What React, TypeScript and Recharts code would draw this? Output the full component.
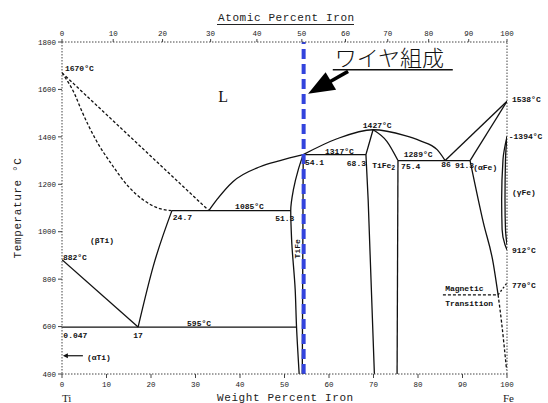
import React from 'react';
import { LineChart, Line, XAxis, YAxis, ReferenceLine, ReferenceDot } from 'recharts';

// ---- data (wt% Fe, °C) ----
const liquidusTi = [[0, 1670], [33, 1089]];
const solidusBeta = [[0, 1670], [2.9, 1578], [4.3, 1515], [7.6, 1388], [11.5, 1275], [14.9, 1191], [18.2, 1135], [22.0, 1097], [24.7, 1089]];
const betaTransus = [[0, 882], [17.1, 598]];
const betaSolvus = [[17.1, 598], [20.5, 854], [24.7, 1089]];
const eutectic1085 = [[24.7, 1089], [51.4, 1089]];
const eutectoid595 = [[0, 598], [52.7, 598]];
const tiFeLeft = [[53.3, 400], [52.7, 600], [52.4, 756], [51.6, 966], [51.4, 1089], [52.0, 1177], [53.1, 1262], [54.2, 1325]];
const tiFeRight = [[54.2, 1325], [54.0, 400]];
const liquidusA = [[33, 1089], [34.8, 1135], [38.4, 1211], [44.5, 1274], [49.0, 1300], [54.2, 1325]];
const liquidusB = [[54.2, 1325], [61.8, 1392], [69.9, 1430], [77.1, 1405], [80.4, 1384], [84.3, 1346], [86.1, 1300]];
const peritectic1317 = [[54.2, 1325], [68.3, 1325]];
const tiFe2Left = [[69.9, 1430], [68.3, 1325], [68.8, 1135], [70.2, 400]];
const tiFe2RightTop = [[69.9, 1430], [73.0, 1381], [75.5, 1300]];
const tiFe2RightBottom = [[75.5, 1300], [75.3, 400]];
const eutectic1289 = [[75.5, 1300], [91.7, 1300]];
const liquidusFe = [[86.1, 1300], [100, 1550]];
const solidusDelta = [[91.7, 1300], [100, 1550]];
const alphaFeSolid = [[91.7, 1300], [94.7, 1037], [96.9, 868], [98.0, 734]];
const alphaFeDashed = [[98.0, 734], [98.8, 615], [99.9, 418]];
const magneticLine = [[98.0, 734], [100, 784]];
const magneticMark = [[85.6, 734], [97.8, 734]];
const gammaOuter = [[100, 924], [99.55, 945], [98.9, 1009], [98.8, 1135], [99.1, 1304], [100, 1401]];
const gammaInner = [[100, 945], [99.66, 1009], [99.55, 1135], [99.66, 1304], [100, 1401]];

const wtTicks = [0, 10, 20, 30, 40, 50, 60, 70, 80, 90, 100];
const atomicTickPos = [0, 11.5, 22.6, 33.4, 43.8, 53.9, 63.7, 73.2, 82.4, 91.4, 100];
const atomicTickLabels = ['0', '10', '20', '30', '40', '50', '60', '70', '80', '90', '100'];
const tempTicks = [400, 600, 800, 1000, 1200, 1400, 1600, 1800];

const wireComposition = 54.3;

const notes: { t: string; x: number; y: number }[] = [
  { t: '1670°C', x: 0.67, y: 1679 },
  { t: '(βTi)', x: 6.3, y: 954 },
  { t: '882°C', x: 0.2, y: 882 },
  { t: '24.7', x: 24.9, y: 1051 },
  { t: '1085°C', x: 38.9, y: 1097 },
  { t: '51.3', x: 47.9, y: 1047 },
  { t: '0.047', x: 0.3, y: 553 },
  { t: '17', x: 16.0, y: 553 },
  { t: '595°C', x: 28.1, y: 604 },
  { t: '(αTi)', x: 5.6, y: 460 },
  { t: '54.1', x: 54.6, y: 1283 },
  { t: '1317°C', x: 59.1, y: 1329 },
  { t: '68.3', x: 64.0, y: 1279 },
  { t: '1427°C', x: 67.6, y: 1439 },
  { t: '75.4', x: 76.2, y: 1266 },
  { t: '1289°C', x: 76.8, y: 1317 },
  { t: '86', x: 85.2, y: 1272 },
  { t: '91.3', x: 88.3, y: 1270 },
  { t: '(αFe)', x: 92.4, y: 1262 },
  { t: '1538°C', x: 101.1, y: 1548 },
  { t: '-1394°C', x: 100.4, y: 1392 },
  { t: '(γFe)', x: 101.1, y: 1156 },
  { t: '912°C', x: 101.1, y: 912 },
  { t: '770°C', x: 101.1, y: 764 },
  { t: 'Magnetic', x: 86.1, y: 751 },
  { t: 'Transition', x: 86.1, y: 688 },
];

const toPts = (a: number[][]) => a.map(([x, y]) => ({ x, y }));

const series: { d: number[][]; dash?: string; type?: string }[] = [
  { d: liquidusTi, dash: '3 2' },
  { d: solidusBeta, dash: '3 2', type: 'monotoneX' },
  { d: betaTransus },
  { d: betaSolvus, type: 'monotoneX' },
  { d: eutectic1085 },
  { d: eutectoid595 },
  { d: tiFeLeft, type: 'monotoneY' },
  { d: tiFeRight },
  { d: liquidusA, type: 'monotoneX' },
  { d: liquidusB, type: 'monotoneX' },
  { d: peritectic1317 },
  { d: tiFe2Left },
  { d: tiFe2RightTop, type: 'monotoneX' },
  { d: tiFe2RightBottom },
  { d: eutectic1289 },
  { d: liquidusFe },
  { d: solidusDelta },
  { d: alphaFeSolid, type: 'monotoneX' },
  { d: alphaFeDashed, dash: '3 2', type: 'monotoneX' },
  { d: magneticLine, dash: '2 2' },
  { d: magneticMark, dash: '3 2' },
  { d: gammaOuter, type: 'monotoneY' },
  { d: gammaInner, type: 'monotoneY' },
];

const mono = 'Liberation Mono, DejaVu Sans Mono, monospace';
const tickStyle = { fontSize: 7.5, fontFamily: mono, fill: '#222' };

export default function App() {
  return (
    <div style={{ position: 'absolute', left: 0, top: 0, width: 548, height: 403, background: '#fff' }}>
      <LineChart width={548} height={403} margin={{ top: 0, right: 41, bottom: 0, left: 0 }}>
        <XAxis
          xAxisId={0}
          dataKey="x"
          type="number"
          domain={[0, 100]}
          ticks={wtTicks}
          height={29}
          tickSize={4}
          tickMargin={4}
          tick={tickStyle}
          axisLine={{ stroke: '#444', strokeDasharray: '1.5 1.5' }}
          tickLine={{ stroke: '#444' }}
          allowDataOverflow
        />
        <XAxis
          xAxisId="top"
          orientation="top"
          dataKey="x"
          type="number"
          domain={[0, 100]}
          ticks={atomicTickPos}
          tickFormatter={(_v: number, i: number) => atomicTickLabels[i]}
          height={42}
          tickSize={3}
          tickMargin={3}
          tick={tickStyle}
          axisLine={{ stroke: '#444', strokeDasharray: '1.5 1.5' }}
          tickLine={{ stroke: '#444' }}
          allowDataOverflow
        />
        <YAxis
          yAxisId={0}
          type="number"
          domain={[400, 1800]}
          ticks={tempTicks}
          width={62}
          tickSize={4}
          tickMargin={2}
          tick={tickStyle}
          axisLine={{ stroke: '#444', strokeDasharray: '1.5 1.5' }}
          tickLine={{ stroke: '#444' }}
          allowDataOverflow
        />
        <ReferenceLine x={100} xAxisId={0} yAxisId={0} stroke="#444" strokeDasharray="1.5 1.5" />
        <Line
          xAxisId="top"
          yAxisId={0}
          data={toPts([[0, 400], [100, 400]])}
          dataKey="y"
          stroke="none"
          dot={false}
          isAnimationActive={false}
        />
        {series.map((s, i) => (
          <Line
            key={i}
            xAxisId={0}
            yAxisId={0}
            data={toPts(s.d)}
            dataKey="y"
            type={(s.type || 'linear') as any}
            stroke="#111"
            strokeWidth={1.3}
            strokeDasharray={s.dash}
            dot={false}
            activeDot={false}
            isAnimationActive={false}
          />
        ))}
        <ReferenceLine
          x={wireComposition}
          xAxisId={0}
          yAxisId={0}
          stroke="#3344dd"
          strokeWidth={4}
          strokeDasharray="10 5"
        />
        {notes.map((n, i) => (
          <ReferenceDot
            key={'n' + i}
            x={n.x}
            y={n.y}
            xAxisId={0}
            yAxisId={0}
            r={0}
            ifOverflow="visible"
            shape={(p: any) => (
              <text x={p.cx} y={p.cy} fontSize={8} fontFamily={mono} fontWeight="bold" fill="#111">
                {n.t}
              </text>
            )}
          />
        ))}
        <ReferenceDot
          x={69.7}
          y={1270}
          xAxisId={0}
          yAxisId={0}
          r={0}
          ifOverflow="visible"
          shape={(p: any) => (
            <text x={p.cx} y={p.cy} fontSize={8} fontFamily={mono} fontWeight="bold" fill="#111">
              TiFe<tspan dy={2} fontSize={6.5}>2</tspan>
            </text>
          )}
        />
        <ReferenceDot
          x={53.0}
          y={928}
          xAxisId={0}
          yAxisId={0}
          r={0}
          ifOverflow="visible"
          shape={(p: any) => (
            <text
              x={p.cx}
              y={p.cy}
              fontSize={8}
              fontFamily={mono}
              fontWeight="bold"
              fill="#111"
              textAnchor="middle"
              dominantBaseline="central"
              transform={`rotate(-90 ${p.cx} ${p.cy})`}
            >
              TiFe
            </text>
          )}
        />
        <ReferenceDot
          x={35.1}
          y={1548}
          xAxisId={0}
          yAxisId={0}
          r={0}
          ifOverflow="visible"
          shape={(p: any) => (
            <text x={p.cx} y={p.cy} fontSize={16} fontFamily="Liberation Serif, serif" fill="#111">
              L
            </text>
          )}
        />
        <ReferenceDot
          x={0.2}
          y={477}
          xAxisId={0}
          yAxisId={0}
          r={0}
          ifOverflow="visible"
          shape={(p: any) => (
            <g>
              <line x1={p.cx + 2} y1={p.cy} x2={p.cx + 20} y2={p.cy} stroke="#111" strokeWidth={1.2} />
              <polygon points={`${p.cx},${p.cy} ${p.cx + 5},${p.cy - 2.5} ${p.cx + 5},${p.cy + 2.5}`} fill="#111" />
            </g>
          )}
        />
        <ReferenceDot
          x={55.3}
          y={1582}
          xAxisId={0}
          yAxisId={0}
          r={0}
          ifOverflow="visible"
          shape={(p: any) => (
            <g>
              <line x1={p.cx + 20} y1={p.cy - 11} x2={p.cx + 40} y2={p.cy - 22.3} stroke="#000" strokeWidth={3.5} />
              <polygon
                points={`${p.cx},${p.cy} ${p.cx + 28},${p.cy - 4} ${p.cx + 17.5},${p.cy - 21.5}`}
                fill="#000"
              />
            </g>
          )}
        />
        <ReferenceDot
          x={61.3}
          y={1700}
          xAxisId={0}
          yAxisId={0}
          r={0}
          ifOverflow="visible"
          shape={(p: any) => (
            <g>
              <text x={p.cx} y={p.cy} fontSize={22} fontFamily="Noto Sans CJK JP" fontWeight={300} fill="#111">
                ワイヤ組成
              </text>
              <line x1={p.cx - 2} y1={p.cy + 4} x2={p.cx + 118} y2={p.cy + 4} stroke="#111" strokeWidth={1.5} />
            </g>
          )}
        />
      </LineChart>
      <svg
        width={548}
        height={403}
        style={{ position: 'absolute', left: 0, top: 0, pointerEvents: 'none' }}
      >
        <text x={218} y={21} fontSize={11} fontFamily={mono} letterSpacing={0.6} fill="#222">
          Atomic Percent Iron
        </text>
        <line x1={217} y1={24.5} x2={354} y2={24.5} stroke="#222" strokeWidth={1} />
        <text x={217} y={401} fontSize={11} fontFamily={mono} letterSpacing={0.6} fill="#222">
          Weight Percent Iron
        </text>
        <text x={62} y={402} fontSize={11} fontFamily="Liberation Serif, serif" fill="#222">
          Ti
        </text>
        <text x={503} y={402} fontSize={11} fontFamily="Liberation Serif, serif" fill="#222">
          Fe
        </text>
        <text
          x={18}
          y={208}
          fontSize={11}
          fontFamily={mono}
          letterSpacing={0.6}
          fill="#222"
          textAnchor="middle"
          dominantBaseline="central"
          transform="rotate(-90 18 208)"
        >
          Temperature °C
        </text>
      </svg>
    </div>
  );
}
